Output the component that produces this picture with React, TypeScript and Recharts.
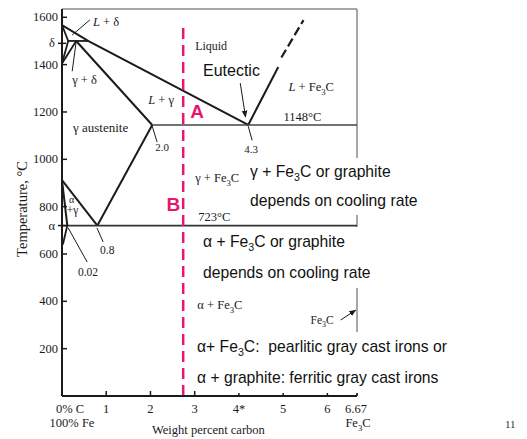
import React from 'react';
import { LineChart, Line, XAxis, YAxis, ReferenceLine, ReferenceDot } from 'recharts';

const SERIF = '"Liberation Serif", "DejaVu Serif", serif';
const SANS = '"Liberation Sans", Arial, sans-serif';
const INK = '#1b1b1b';
const PINK = '#e6176e';

// phase boundaries, each point is [wt% carbon, temperature °C]
const liquidus = [[0, 1567], [0.59, 1500], [4.21, 1145]];
const liquidusFe3C = [[4.21, 1145], [4.89, 1390]];
const liquidusFe3CDashed = [[4.96, 1430], [5.46, 1588]];
const deltaSolidus = [[0, 1567], [0.14, 1500]];
const peritectic = [[0.14, 1500], [0.59, 1500]];
const deltaSolvus = [[0, 1405], [0.14, 1500]];
const gammaDelta = [[0, 1405], [0.32, 1500]];
const gammaSolidus = [[0.32, 1500], [2.04, 1145]];
const eutectic = [[2.04, 1145], [6.67, 1145]];
const acm = [[2.04, 1145], [0.8, 720]];
const a3 = [[0, 912], [0.8, 720]];
const eutectoid = [[0, 720], [6.67, 720]];
const alphaBoundary = [[0, 912], [0.12, 720]];
const alphaSolvus = [[0.12, 720], [0.02, 640]];
const castIronLine = [[2.74, 0], [2.74, 1567]];

// leader lines from labels
const leaderLd = [[0.63, 1589], [0.23, 1525]];
const leaderGd = [[0.23, 1372], [0.32, 1496]];
const leader20 = [[2.04, 1140], [2.15, 1073]];
const leader43 = [[4.21, 1140], [4.3, 1080]];
const leader08 = [[0.79, 710], [0.93, 651]];
const leader002 = [[0.14, 710], [0.57, 566]];
const arrowEutectic = [[4.03, 1322], [4.15, 1179]];
const arrowFe3C = [[6.3, 321], [6.64, 363]];

const xTicks = [0, 1, 2, 3, 4, 5, 6, 6.67];
const yTicks = [200, 400, 600, 720, 800, 1000, 1200, 1400, 1490, 1600];
const yTickNames: Record<number, string> = { 720: 'α', 1490: 'δ' };

const regionLabels = [
  { c: 0.7, t: 1563, text: 'L + δ', italicFirst: true },
  { c: 0.23, t: 1318, text: 'γ + δ' },
  { c: 1.95, t: 1234, text: 'L + γ', italicFirst: true },
  { c: 0.25, t: 1115, text: 'γ austenite', size: 13 },
  { c: 3.01, t: 1462, text: 'Liquid', size: 12 },
  { c: 5.12, t: 1289, text: 'L + Fe₃C', italicFirst: true },
  { c: 5.01, t: 1162, text: '1148°C' },
  { c: 2.11, t: 1035, text: '2.0', size: 11 },
  { c: 4.12, t: 1027, text: '4.3', size: 11 },
  { c: 3.01, t: 904, text: 'γ + Fe₃C' },
  { c: 3.08, t: 739, text: '723°C' },
  { c: 0.16, t: 815, text: 'α', size: 10 },
  { c: 0.11, t: 769, text: '+γ', size: 11.5 },
  { c: 0.86, t: 600, text: '0.8', size: 11.5 },
  { c: 0.36, t: 507, text: '0.02', size: 11.5 },
  { c: 3.06, t: 368, text: 'α + Fe₃C' },
  { c: 5.62, t: 304, text: 'Fe₃C', size: 11.5 },
  { c: 2.9, t: 1174, text: 'A', size: 19, font: SANS, color: PINK, weight: 700 },
  { c: 2.36, t: 782, text: 'B', size: 19, font: SANS, color: PINK, weight: 700 },
];

const pts = (arr: number[][]) => arr.map(([c, t]) => ({ c, t }));

const richText = (text: string, size: number, italicFirst?: boolean) => {
  const out: React.ReactNode[] = [];
  let rest = text;
  if (italicFirst) {
    out.push(<tspan key="it" fontStyle="italic">{text[0]}</tspan>);
    rest = text.slice(1);
  }
  rest.split('₃').forEach((p, i) => {
    if (i > 0) out.push(<tspan key={'s' + i} dy={size * 0.3} fontSize={size * 0.7}>3</tspan>);
    out.push(<tspan key={'p' + i} dy={i > 0 ? -size * 0.3 : undefined}>{p}</tspan>);
  });
  return out;
};

const XTick = (props: any) => {
  const { x, y, payload } = props;
  const v = payload.value;
  const txt = { fontFamily: SERIF, fontSize: 12.5, fill: INK, textAnchor: 'middle' as const };
  let label: React.ReactNode;
  if (v === 0) {
    label = (
      <>
        <text x={x + 8} y={y + 17} {...txt}>0% C</text>
        <text x={x + 10} y={y + 31} {...txt}>100% Fe</text>
      </>
    );
  } else if (v === 6.67) {
    label = (
      <>
        <text x={x - 1} y={y + 17} {...txt}>6.67</text>
        <text x={x + 1} y={y + 31} {...txt}>{richText('Fe₃C', 12.5)}</text>
      </>
    );
  } else {
    label = <text x={x} y={y + 17} {...txt}>{v === 4 ? '4*' : String(v)}</text>;
  }
  return (
    <g>
      <line x1={x} x2={x} y1={y} y2={y - 5} stroke={INK} strokeWidth={1.5} />
      {label}
    </g>
  );
};

const YTick = (props: any) => {
  const { x, y, payload } = props;
  const name = yTickNames[payload.value];
  return (
    <g>
      {name ? (
        <line x1={x - 4} x2={x + 4} y1={y} y2={y} stroke={INK} strokeWidth={1.5} />
      ) : (
        <line x1={x} x2={x + 5} y1={y} y2={y} stroke={INK} strokeWidth={1.5} />
      )}
      <text x={name ? x - 7 : x - 4} y={y + 4} textAnchor="end" fontFamily={SERIF} fontSize={12.5} fill={INK}>
        {name ?? payload.value}
      </text>
    </g>
  );
};

const boundaries = [
  { data: liquidus, w: 2 },
  { data: liquidusFe3C, w: 2 },
  { data: liquidusFe3CDashed, w: 2.2, dash: '9 4' },
  { data: deltaSolidus, w: 1.8 },
  { data: peritectic, w: 1.8 },
  { data: deltaSolvus, w: 1.8 },
  { data: gammaDelta, w: 1.8 },
  { data: gammaSolidus, w: 2 },
  { data: eutectic, w: 1.4, color: '#444' },
  { data: acm, w: 2 },
  { data: a3, w: 2 },
  { data: eutectoid, w: 1.6, color: '#333' },
  { data: alphaBoundary, w: 2 },
  { data: alphaSolvus, w: 1.8 },
  { data: leaderLd, w: 1 },
  { data: leaderGd, w: 1 },
  { data: leader20, w: 1 },
  { data: leader43, w: 1 },
  { data: leader08, w: 1 },
  { data: leader002, w: 1 },
  { data: arrowEutectic, w: 1, arrow: true },
  { data: arrowFe3C, w: 1, arrow: true },
];

const textBlock = (top: number, left: number, lh: number): React.CSSProperties => ({
  position: 'absolute',
  top,
  left,
  background: '#fff',
  fontFamily: SANS,
  fontSize: 15.7,
  lineHeight: lh + 'px',
  whiteSpace: 'pre',
  color: '#111',
  paddingRight: 3,
});

const Sub = ({ children }: { children: React.ReactNode }) => (
  <span style={{ fontSize: '0.68em', position: 'relative', top: 4 }}>{children}</span>
);

export default function App() {
  return (
    <div style={{ position: 'absolute', left: 0, top: 0, width: 527, height: 439, background: '#fff', overflow: 'hidden' }}>
      <LineChart width={527} height={439} margin={{ top: 9, right: 170, bottom: 13, left: 22 }}>
        <defs>
          <marker id="arrowHead" viewBox="0 0 10 10" refX="9" refY="5" markerWidth="7" markerHeight="7"
            orient="auto" markerUnits="userSpaceOnUse">
            <path d="M0,1 L10,5 L0,9 z" fill={INK} />
          </marker>
        </defs>
        <XAxis type="number" dataKey="c" domain={[0, 6.67]} ticks={xTicks} interval={0} allowDataOverflow
          height={30} tickSize={0} tickMargin={0} tickLine={false} axisLine={{ stroke: INK, strokeWidth: 2 }}
          tick={<XTick />} />
        <YAxis type="number" dataKey="t" domain={[0, 1635]} ticks={yTicks} interval={0} allowDataOverflow
          width={40} tickSize={0} tickMargin={0} tickLine={false} axisLine={{ stroke: INK, strokeWidth: 2 }}
          tick={<YTick />} />
        <ReferenceLine y={1635} stroke="#8a8a8a" strokeWidth={1.5} />
        <ReferenceLine x={6.67} stroke="#8a8a8a" strokeWidth={1.5} />
        {boundaries.map((b, i) => (
          <Line key={i} data={pts(b.data)} dataKey="t" type="linear" stroke={b.color ?? INK} strokeWidth={b.w}
            strokeDasharray={b.dash} dot={false} activeDot={false} isAnimationActive={false}
            markerEnd={b.arrow ? 'url(#arrowHead)' : undefined} />
        ))}
        <Line data={pts(castIronLine)} dataKey="t" type="linear" stroke={PINK} strokeWidth={2.5}
          strokeDasharray="11 6" dot={false} activeDot={false} isAnimationActive={false} />
        {regionLabels.map((l, i) => (
          <ReferenceDot key={'l' + i} x={l.c} y={l.t} r={0} ifOverflow="visible"
            shape={(p: any) => (
              <text x={p.cx} y={p.cy} fontFamily={l.font ?? SERIF} fontSize={l.size ?? 12.5}
                fill={l.color ?? INK} fontWeight={l.weight ?? 400}>
                {richText(l.text, l.size ?? 12.5, l.italicFirst)}
              </text>
            )} />
        ))}
      </LineChart>

      <div style={{ ...textBlock(61, 203, 20), fontSize: 16, background: 'transparent' }}>Eutectic</div>
      <div style={textBlock(158, 250, 28)}>
        γ + Fe<Sub>3</Sub>C or graphite{'\n'}depends on cooling rate
      </div>
      <div style={textBlock(227, 203, 30)}>
        α + Fe<Sub>3</Sub>C or graphite{'\n'}depends on cooling rate
      </div>
      <div style={textBlock(332, 197, 30)}>
        α+ Fe<Sub>3</Sub>C:  pearlitic gray cast irons or{'\n'}α + graphite: ferritic gray cast irons
      </div>

      <div style={{ position: 'absolute', left: -58, top: 201, width: 160, textAlign: 'center', transform: 'rotate(-90deg)',
        fontFamily: SERIF, fontSize: 14.5, lineHeight: '16px', color: INK }}>
        Temperature, °C
      </div>
      <div style={{ position: 'absolute', left: 152, top: 423, fontFamily: SERIF, fontSize: 12.5, lineHeight: '14px', color: INK, whiteSpace: 'pre' }}>
        Weight percent carbon
      </div>
      <div style={{ position: 'absolute', left: 505, top: 418, fontFamily: SERIF, fontSize: 11, lineHeight: '12px', color: '#333' }}>
        11
      </div>
    </div>
  );
}
